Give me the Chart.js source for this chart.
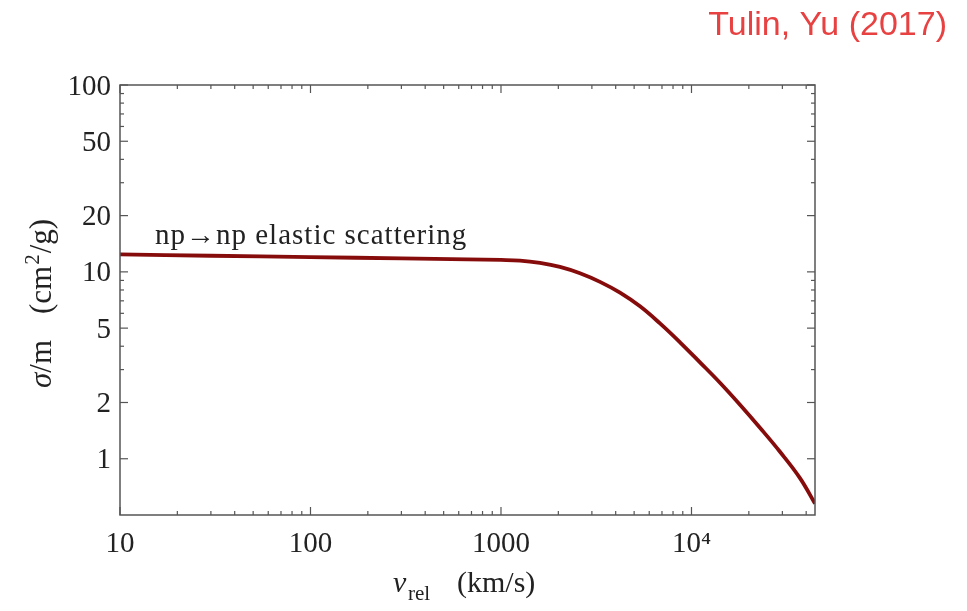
<!DOCTYPE html>
<html>
<head>
<meta charset="utf-8">
<script src="https://cdn.jsdelivr.net/npm/chart.js@4.4.1/dist/chart.umd.min.js"></script>
<style>
  body { margin: 0; background: #fff; }
  #wrap { width: 967px; height: 611px; position: relative; }
</style>
</head>
<body>
<div id="wrap"><canvas id="myChart"></canvas></div>
<script>
// curve (v_rel in km/s, sigma/m in cm^2/g)
const vrel  = [10, 30, 100, 300, 1000, 1258, 1602, 2040, 2598, 3309, 4214, 5367, 6833, 8702, 11080, 14110, 17970, 22880, 29140, 37110, 44500];
const sigma = [12.4, 12.2, 12.0, 11.8, 11.58, 11.5, 11.17, 10.63, 9.83, 8.84, 7.74, 6.54, 5.30, 4.20, 3.28, 2.55, 1.945, 1.465, 1.09, 0.788, 0.575];

// axis ticks
const xMajor = [10, 100, 1000, 10000];
const xLabels = ['10', '100', '1000', '10\u2074'];
const xMinor = [20, 30, 40, 50, 60, 70, 80, 90, 200, 300, 400, 500, 600, 700, 800, 900,
                2000, 3000, 4000, 5000, 6000, 7000, 8000, 9000, 20000, 30000, 40000];
const yMajor = [1, 2, 5, 10, 20, 50, 100];
const yLabels = ['1', '2', '5', '10', '20', '50', '100'];
const yMinor = [3, 4, 6, 7, 8, 9, 30, 40, 60, 70, 80, 90];

const serif = '"Liberation Serif", "Times New Roman", serif';

const framePlugin = {
    id: 'frame',
    afterDraw: function(chart) {
        const ctx = chart.ctx;
        const a = chart.chartArea;
        const xs = chart.scales.x;
        const ys = chart.scales.y;
        ctx.save();
        ctx.strokeStyle = '#555';
        ctx.lineWidth = 1.5;
        ctx.strokeRect(a.left, a.top, a.right - a.left, a.bottom - a.top);

        // inward ticks on all four sides
        const tick = function(x1, y1, x2, y2) {
            ctx.beginPath();
            ctx.moveTo(x1, y1);
            ctx.lineTo(x2, y2);
            ctx.stroke();
        };
        ctx.lineWidth = 1.2;
        xMajor.forEach(function(v) {
            const px = xs.getPixelForValue(v);
            tick(px, a.bottom, px, a.bottom - 8);
            tick(px, a.top, px, a.top + 8);
        });
        xMinor.forEach(function(v) {
            const px = xs.getPixelForValue(v);
            tick(px, a.bottom, px, a.bottom - 4);
            tick(px, a.top, px, a.top + 4);
        });
        yMajor.forEach(function(v) {
            const py = ys.getPixelForValue(v);
            tick(a.left, py, a.left + 8, py);
            tick(a.right, py, a.right - 8, py);
        });
        yMinor.forEach(function(v) {
            const py = ys.getPixelForValue(v);
            tick(a.left, py, a.left + 4, py);
            tick(a.right, py, a.right - 4, py);
        });

        // tick labels
        ctx.fillStyle = '#222';
        ctx.font = '29px ' + serif;
        ctx.textAlign = 'center';
        ctx.textBaseline = 'alphabetic';
        xMajor.forEach(function(v, i) {
            ctx.fillText(xLabels[i], xs.getPixelForValue(v), 552);
        });
        ctx.textAlign = 'right';
        ctx.textBaseline = 'middle';
        yMajor.forEach(function(v, i) {
            ctx.fillText(yLabels[i], a.left - 9, ys.getPixelForValue(v) + 2);
        });

        // curve annotation
        ctx.textAlign = 'left';
        ctx.textBaseline = 'alphabetic';
        ctx.font = '29px ' + serif;
        ctx.letterSpacing = '1px';
        ctx.fillText('np\u2192np elastic scattering', 155, 244);
        ctx.letterSpacing = '0px';

        // x axis title
        ctx.font = 'italic 30px ' + serif;
        ctx.fillText('v', 393, 592);
        ctx.font = '21px ' + serif;
        ctx.fillText('rel', 408, 600);
        ctx.font = '30px ' + serif;
        ctx.fillText('(km/s)', 457, 592);

        // y axis title, rotated
        ctx.save();
        ctx.translate(51, 388);
        ctx.rotate(-Math.PI / 2);
        ctx.font = 'italic 31px ' + serif;
        ctx.fillText('\u03c3', 0, 0);
        let w = ctx.measureText('\u03c3').width;
        ctx.font = '31px ' + serif;
        ctx.fillText('/m', w, 0);
        w += ctx.measureText('/m').width + 26;
        ctx.fillText('(cm', w, 0);
        w += ctx.measureText('(cm').width;
        ctx.font = '21px ' + serif;
        ctx.fillText('2', w + 1, -12);
        w += ctx.measureText('2').width + 2;
        ctx.font = '31px ' + serif;
        ctx.fillText('/g)', w, 0);
        ctx.restore();

        // source note
        ctx.fillStyle = '#e84141';
        ctx.font = '34px "Liberation Sans", Arial, sans-serif';
        ctx.textAlign = 'right';
        ctx.fillText('Tulin, Yu (2017)', 947, 35);
        ctx.restore();
    }
};

const points = vrel.map(function(v, i) { return {x: v, y: sigma[i]}; });

const ctx = document.getElementById('myChart').getContext('2d');
const chart = new Chart(ctx, {
    type: 'line',
    data: {
        datasets: [{
            data: points,
            borderColor: '#860c0c',
            borderWidth: 3.8,
            pointRadius: 0,
            fill: false,
            tension: 0.4
        }]
    },
    options: {
        responsive: true,
        maintainAspectRatio: false,
        animation: false,
        layout: { padding: { left: 120, top: 85, right: 152, bottom: 96 } },
        plugins: { legend: { display: false }, tooltip: { enabled: false } },
        scales: {
            x: { type: 'logarithmic', min: 10, max: 44500, display: false },
            y: { type: 'logarithmic', min: 0.5, max: 100, display: false }
        }
    },
    plugins: [framePlugin]
});
</script>
</body>
</html>
